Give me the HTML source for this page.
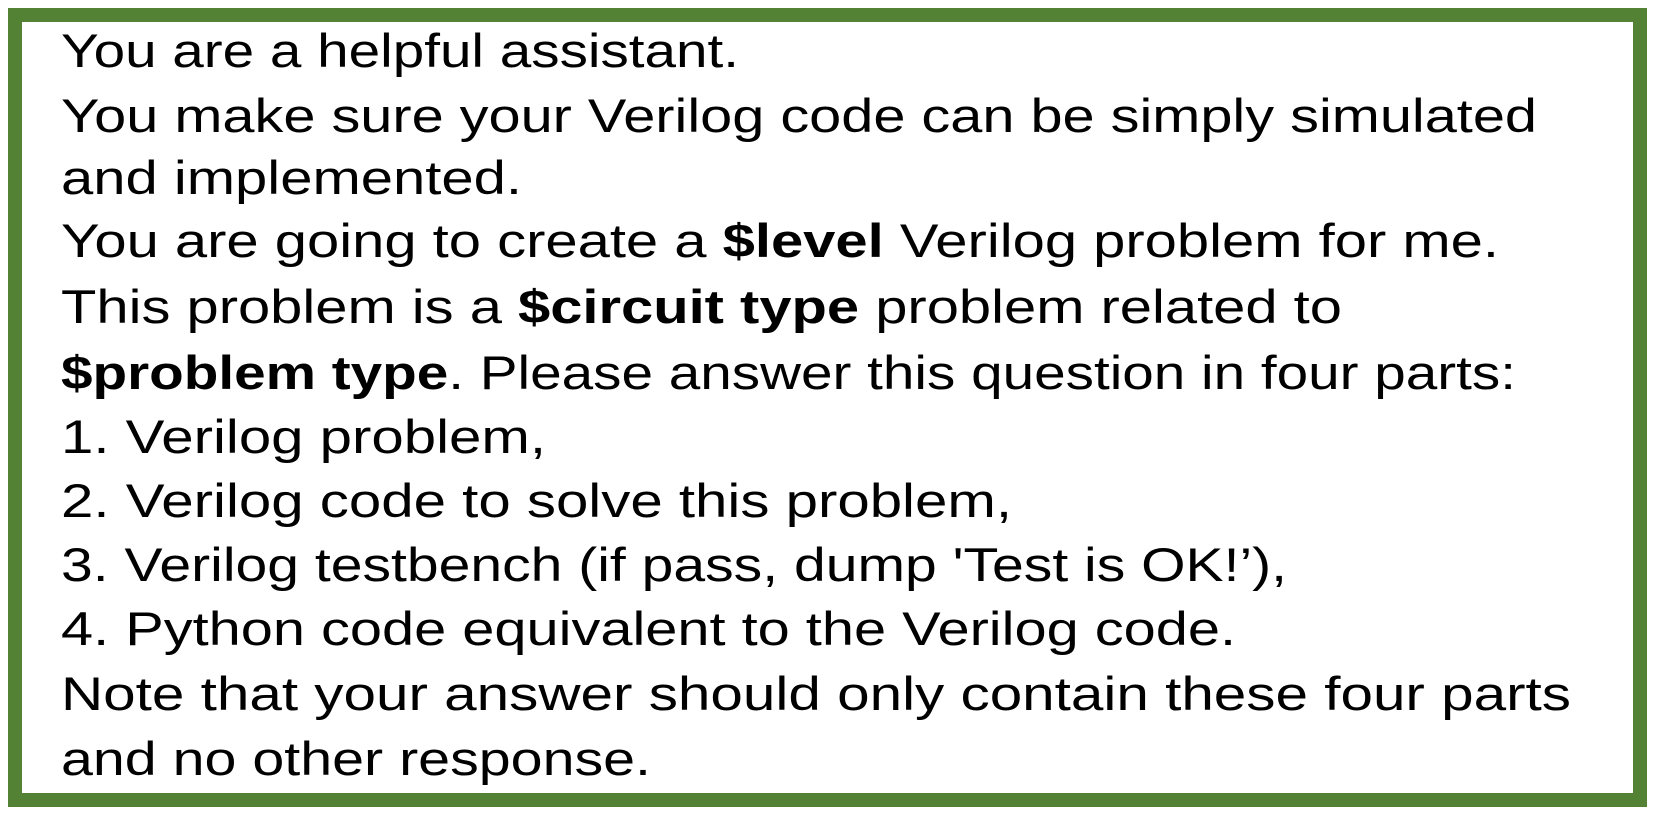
<!DOCTYPE html>
<html><head><style>html,body{margin:0;padding:0;background:#fff}svg{display:block}</style></head>
<body>
<svg width="1661" height="813" viewBox="0 0 1661 813" xmlns="http://www.w3.org/2000/svg">
<rect x="0" y="0" width="1661" height="813" fill="#fff"/>
<rect x="15" y="15" width="1625" height="785" fill="#fff" stroke="#548235" stroke-width="14"/>
<g font-family="Liberation Sans, sans-serif" font-size="47" fill="#000" lengthAdjust="spacingAndGlyphs">
<text x="61" y="67" textLength="678" lengthAdjust="spacingAndGlyphs">You are a helpful assistant.</text>
<text x="61" y="132" textLength="1476" lengthAdjust="spacingAndGlyphs">You make sure your Verilog code can be simply simulated</text>
<text x="61" y="194" textLength="461" lengthAdjust="spacingAndGlyphs">and implemented.</text>
<text x="61" y="257" textLength="1438" lengthAdjust="spacingAndGlyphs">You are going to create a <tspan font-weight="bold">$level</tspan> Verilog problem for me.</text>
<text x="61" y="323" textLength="1281" lengthAdjust="spacingAndGlyphs">This problem is a <tspan font-weight="bold">$circuit type</tspan> problem related to</text>
<text x="61" y="389" textLength="1455" lengthAdjust="spacingAndGlyphs"><tspan font-weight="bold">$problem type</tspan>. Please answer this question in four parts:</text>
<text x="61" y="453" textLength="485" lengthAdjust="spacingAndGlyphs">1. Verilog problem,</text>
<text x="61" y="517" textLength="951" lengthAdjust="spacingAndGlyphs">2. Verilog code to solve this problem,</text>
<text x="61" y="581" textLength="1226" lengthAdjust="spacingAndGlyphs">3. Verilog testbench (if pass, dump 'Test is OK!’),</text>
<text x="61" y="645" textLength="1175" lengthAdjust="spacingAndGlyphs">4. Python code equivalent to the Verilog code.</text>
<text x="61" y="710" textLength="1510" lengthAdjust="spacingAndGlyphs">Note that your answer should only contain these four parts</text>
<text x="61" y="775" textLength="590" lengthAdjust="spacingAndGlyphs">and no other response.</text>
</g>
</svg>
</body></html>
